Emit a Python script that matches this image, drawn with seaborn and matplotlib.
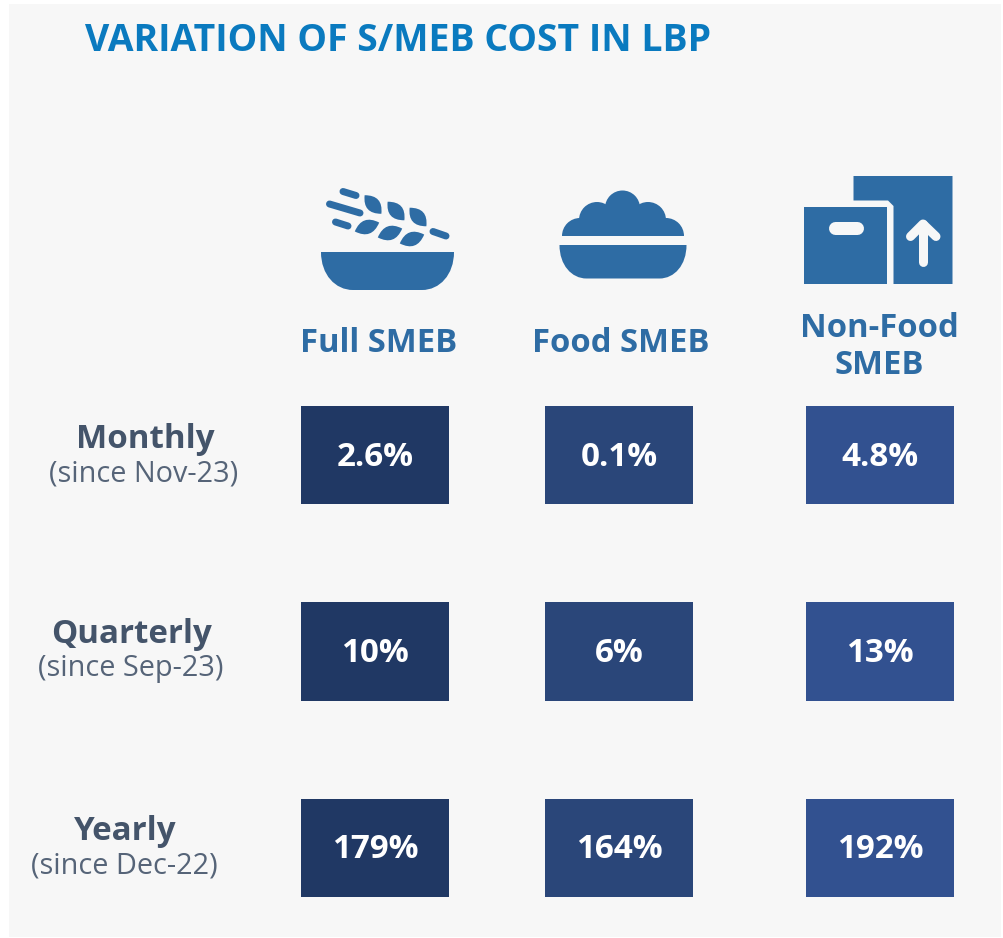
"""
Variation of S/MEB cost in LBP - tile table with icons
"""

import numpy as np
import pandas as pd
import matplotlib
matplotlib.use('Agg')
import matplotlib.pyplot as plt
import seaborn as sns
from matplotlib.colors import ListedColormap
from matplotlib.patches import Circle, PathPatch, Polygon, Rectangle
from matplotlib.path import Path

# data
title = 'VARIATION OF S/MEB COST IN LBP'
periods = ['Monthly', 'Quarterly', 'Yearly']
period_notes = ['(since Nov-23)', '(since Sep-23)', '(since Dec-22)']
full_smeb = [2.6, 10, 179]
food_smeb = [0.1, 6, 164]
non_food_smeb = [4.8, 13, 192]
full_labels = ['2.6%', '10%', '179%']
food_labels = ['0.1%', '6%', '164%']
non_food_labels = ['4.8%', '13%', '192%']

W, H = 1004, 938
DPI = 100
PANEL = '#F7F7F7'
ICON = '#2E6CA4'
GREY = '#44546A'
FONT = 'Open Sans'


def px(lw):
    return lw * 72 / DPI


sns.set_theme(style='white')
plt.rcParams['font.family'] = [FONT, 'DejaVu Sans']

fig = plt.figure(figsize=(W / DPI, H / DPI), dpi=DPI, facecolor='white')

# overlay in pixel coordinates for panel, text and icons
bg = fig.add_axes([0, 0, 1, 1], zorder=0)
bg.set_xlim(0, W)
bg.set_ylim(H, 0)
bg.axis('off')
bg.add_patch(Rectangle((9, 4), 992, 933, color=PANEL, lw=0))

bg.text(85, 41, title, color='#0A7ABF', fontsize=26.9, fontweight='bold',
        ha='left', va='center')

# ── tiles: one heatmap per column, blank rows make the gaps
columns = [
    (full_smeb, full_labels, '#203864', 301),
    (food_smeb, food_labels, '#2A4679', 545),
    (non_food_smeb, non_food_labels, '#325190', 806),
]
tile_w = 148
top, bottom = 406, 897

for values, labels, colour, left in columns:
    ax = fig.add_axes([left / W, 1 - bottom / H, tile_w / W, (bottom - top) / H], zorder=1)
    grid = np.full((5, 1), np.nan)
    grid[::2, 0] = values
    notes = np.full((5, 1), '', dtype=object)
    notes[::2, 0] = labels
    sns.heatmap(pd.DataFrame(grid), ax=ax, cmap=ListedColormap([colour]), cbar=False,
                annot=notes, fmt='', xticklabels=False, yticklabels=False,
                annot_kws={'color': 'white', 'fontsize': 23.9, 'fontweight': 'bold', 'family': FONT})
    ax.patch.set_alpha(0)
    for t in ax.texts:
        t.set_y(t.get_position()[1] + 0.02)

# ── row and column headings
row_x = [144, 131, 124.5]
row_y = [440, 634.5, 832]
for name, note, x, y in zip(periods, period_notes, row_x, row_y):
    bg.text(x + 1, y, name, color=GREY, fontsize=23.9, fontweight='bold', ha='center', va='center')
    bg.text(x, y + 34, note, color=GREY, fontsize=20.8, ha='center', va='center', alpha=0.9)

bg.text(378.5, 344, 'Full SMEB', color=ICON, fontsize=23.6, fontweight='bold', ha='center', va='center')
bg.text(620.5, 344, 'Food SMEB', color=ICON, fontsize=23.6, fontweight='bold', ha='center', va='center')
bg.text(879.5, 347, 'Non-Food\nSMEB', color=ICON, fontsize=23.6, fontweight='bold', ha='center',
        va='center', linespacing=1.17)


def bowl(x0, x1, y0, y1, inset):
    # flat top, rounded underside
    h = y1 - y0
    verts = [(x0, y0), (x1, y0), (x1, y0 + 0.6 * h), (x1 - 0.45 * inset, y1), (x1 - inset, y1),
             (x0 + inset, y1), (x0 + 0.45 * inset, y1), (x0, y0 + 0.6 * h), (x0, y0), (x0, y0)]
    codes = [Path.MOVETO, Path.LINETO, Path.CURVE4, Path.CURVE4, Path.CURVE4,
             Path.LINETO, Path.CURVE4, Path.CURVE4, Path.CURVE4, Path.CLOSEPOLY]
    bg.add_patch(PathPatch(Path(verts, codes), color=ICON, lw=0))


def leaf(cx, cy, length, width, angle):
    # pointed lens shape, angle in degrees with y pointing down
    a = np.radians(angle)
    ux, uy = np.cos(a), np.sin(a)
    nx, ny = -uy, ux
    hl, hw = length / 2, width
    p0 = (cx - hl * ux, cy - hl * uy)
    p1 = (cx + hl * ux, cy + hl * uy)
    c0 = (cx + hw * nx, cy + hw * ny)
    c1 = (cx - hw * nx, cy - hw * ny)
    verts = [p0, c0, p1, c1, p0, p0]
    codes = [Path.MOVETO, Path.CURVE3, Path.CURVE3, Path.CURVE3, Path.CURVE3, Path.CLOSEPOLY]
    bg.add_patch(PathPatch(Path(verts, codes), color=ICON, lw=0))


def stroke(xs, ys, width, colour=ICON):
    bg.plot(xs, ys, color=colour, lw=px(width), solid_capstyle='round', solid_joinstyle='round')


# ── wheat bowl icon
bowl(321, 454, 252, 290, 32)
for cx, cy in [(373, 204.5), (396, 211), (418, 217)]:
    leaf(cx, cy, 25, 14, 48)
for cx, cy in [(367, 227), (390, 233), (412, 239)]:
    leaf(cx, cy, 26, 14, -20)
stroke([343, 356], [191.5, 195.5], 7)
stroke([329.5, 360], [204, 213], 7)
stroke([335.5, 348], [222, 226], 7)
stroke([433, 446], [231.5, 236], 7)

# ── food bowl icon
bowl(559.5, 686.5, 245, 278.5, 27)
clip = Rectangle((550, 180), 150, 56, transform=bg.transData)
for cx, cy, r in [(622.5, 208, 17.5), (597, 220, 18), (648, 220, 18), (580, 236, 18), (666, 236, 18)]:
    c = Circle((cx, cy), r, color=ICON, lw=0)
    bg.add_patch(c)
    c.set_clip_path(clip)
bg.add_patch(Rectangle((590, 210), 66, 26, color=ICON, lw=0))

# ── boxes icon
bg.add_patch(Polygon([(853.5, 176), (952.5, 176), (952.5, 284), (893.5, 284), (893.5, 206),
                      (888, 200.5), (853.5, 200.5)], closed=True, color=ICON, lw=0))
bg.add_patch(Rectangle((804.5, 207.5), 83, 76.5, color=ICON, lw=0))
stroke([835, 857.5], [228.5, 228.5], 13, PANEL)
stroke([923, 923], [224, 262], 9, PANEL)
stroke([910.5, 923, 936], [236.5, 224, 236.5], 9, PANEL)

plt.savefig('out.png', dpi=DPI, facecolor=fig.get_facecolor())
plt.close()
